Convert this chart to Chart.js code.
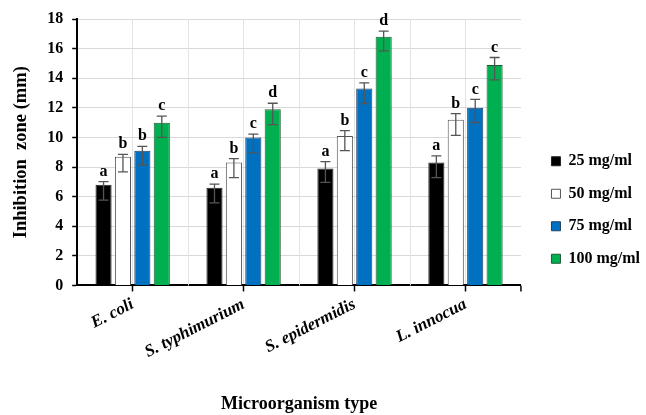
<!DOCTYPE html>
<html>
<head>
<meta charset="utf-8">
<script src="https://cdn.jsdelivr.net/npm/chart.js@4.4.1/dist/chart.umd.min.js"></script>
<style>
  html, body { margin: 0; padding: 0; background: #fff; }
  #wrap { width: 646px; height: 415px; }
</style>
</head>
<body>
<div id="wrap"><canvas id="chart"></canvas></div>
<script>
const categories = ['E. coli', 'S. typhimurium', 'S. epidermidis', 'L. innocua'];
const seriesNames = ['25 mg/ml', '50 mg/ml', '75 mg/ml', '100 mg/ml'];

const v25 = [6.8, 6.6, 7.9, 8.3];
const v50 = [8.7, 8.3, 10.1, 11.2];
const v75 = [9.1, 10.0, 13.3, 12.0];
const v100 = [11.0, 11.9, 16.8, 14.9];

// whiskers as drawn (upper / lower lengths)
const errHigh25 = [0.22, 0.24, 0.47, 0.45];
const errHigh50 = [0.16, 0.27, 0.36, 0.41];
const errHigh75 = [0.30, 0.23, 0.38, 0.57];
const errHigh100 = [0.44, 0.41, 0.38, 0.50];
const errLow25 = [1.03, 1.02, 0.94, 1.02];
const errLow50 = [1.03, 1.02, 0.99, 1.06];
const errLow75 = [0.95, 1.05, 1.01, 0.99];
const errLow100 = [1.00, 1.03, 0.95, 1.01];

const letters25 = ['a', 'a', 'a', 'a'];
const letters50 = ['b', 'b', 'b', 'b'];
const letters75 = ['b', 'c', 'c', 'c'];
const letters100 = ['c', 'd', 'd', 'c'];

const serif = "'Liberation Serif', 'Times New Roman', serif";

const values = [v25, v50, v75, v100];
const highs = [errHigh25, errHigh50, errHigh75, errHigh100];
const lows = [errLow25, errLow50, errLow75, errLow100];
const letters = [letters25, letters50, letters75, letters100];
const fills = ['#000000', '#ffffff', '#0070c0', '#00b050'];
const borders = ['#222222', '#555555', '#1f3f66', '#1f5a33'];

// error bars + significance letters
const errorBars = {
    id: 'errorBars',
    afterDatasetsDraw(chart) {
        const ctx = chart.ctx;
        const y = chart.scales.y;
        ctx.save();
        chart.data.datasets.forEach((ds, di) => {
            const meta = chart.getDatasetMeta(di);
            meta.data.forEach((bar, i) => {
                const v = ds.data[i];
                const top = y.getPixelForValue(v + highs[di][i]);
                const bot = y.getPixelForValue(v - lows[di][i]);
                ctx.strokeStyle = '#555';
                ctx.lineWidth = 1.3;
                ctx.beginPath();
                ctx.moveTo(bar.x, top); ctx.lineTo(bar.x, bot);
                ctx.moveTo(bar.x - 5, top); ctx.lineTo(bar.x + 5, top);
                ctx.moveTo(bar.x - 5, bot); ctx.lineTo(bar.x + 5, bot);
                ctx.stroke();
                ctx.fillStyle = '#000';
                ctx.font = 'bold 16px ' + serif;
                ctx.textAlign = 'center';
                ctx.textBaseline = 'bottom';
                ctx.fillText(letters[di][i], bar.x, top - 2);
            });
        });
        ctx.restore();
    }
};

// vertical lines between categories + closing tick at the right end
const categoryDecor = {
    id: 'categoryDecor',
    beforeDatasetsDraw(chart) {
        const ctx = chart.ctx;
        const x = chart.scales.x;
        const area = chart.chartArea;
        ctx.save();
        ctx.strokeStyle = '#e3e3e3';
        ctx.lineWidth = 1;
        for (let i = 0; i < categories.length - 1; i++) {
            const px = Math.round((x.getPixelForValue(i) + x.getPixelForValue(i + 1)) / 2) + 0.5;
            ctx.beginPath();
            ctx.moveTo(px, area.top); ctx.lineTo(px, area.bottom);
            ctx.stroke();
        }
        ctx.restore();
    },
    afterDraw(chart) {
        const ctx = chart.ctx;
        const area = chart.chartArea;
        ctx.save();
        ctx.strokeStyle = '#000';
        ctx.lineWidth = 1.5;
        ctx.beginPath();
        ctx.moveTo(area.right, area.bottom); ctx.lineTo(area.right, area.bottom + 6);
        ctx.stroke();
        ctx.restore();
    }
};

// leave a gap between the plot and the legend
const legendGap = {
    id: 'legendGap',
    beforeInit(chart) {
        const fit = chart.legend.fit;
        chart.legend.fit = function () {
            fit.bind(chart.legend)();
            this.width += 10;
        };
    },
    afterLayout(chart) {
        chart.legend.left += 14;
        chart.legend.top -= 7;
        chart.legend.bottom -= 7;
    }
};

new Chart(document.getElementById('chart'), {
    type: 'bar',
    data: {
        labels: categories,
        datasets: seriesNames.map((name, i) => ({
            label: name,
            data: values[i],
            backgroundColor: fills[i],
            borderColor: borders[i],
            borderWidth: 1,
            categoryPercentage: 0.7,
            barPercentage: 0.83
        }))
    },
    options: {
        responsive: true,
        maintainAspectRatio: false,
        animation: false,
        layout: { padding: { top: 19, left: 10, right: 0, bottom: 0 } },
        plugins: {
            tooltip: { enabled: false },
            legend: {
                position: 'right',
                labels: {
                    boxWidth: 9,
                    boxHeight: 9,
                    padding: 16.5,
                    color: '#000',
                    font: { family: serif, size: 16, weight: 'bold' }
                }
            }
        },
        scales: {
            x: {
                grid: { offset: false, color: '#e3e3e3', tickLength: 6, tickColor: '#000', tickWidth: 1.5 },
                border: { color: '#000', width: 2 },
                ticks: {
                    color: '#000',
                    minRotation: 27,
                    maxRotation: 27,
                    padding: 3,
                    font: { family: serif, size: 17, weight: 'bold', style: 'italic' }
                },
                title: {
                    display: true,
                    text: 'Microorganism type',
                    color: '#000',
                    font: { family: serif, size: 18, weight: 'bold' },
                    padding: { top: 28, bottom: 0 }
                }
            },
            y: {
                min: 0,
                max: 18,
                ticks: {
                    stepSize: 1,
                    color: '#000',
                    padding: 9,
                    font: { family: serif, size: 16, weight: 'bold' },
                    callback: (v) => (v % 2 === 0 ? v : '')
                },
                grid: {
                    color: (c) => (c.tick && c.tick.value % 2 === 0 ? '#d9d9d9' : '#f0f0f0'),
                    tickColor: (c) => (c.tick && c.tick.value % 2 === 0 ? '#000' : 'rgba(0,0,0,0)'),
                    tickLength: 5,
                    tickWidth: 1.5
                },
                border: { color: '#000', width: 2 },
                title: {
                    display: true,
                    text: 'Inhibition  zone (mm)',
                    color: '#000',
                    font: { family: serif, size: 18.5, weight: 'bold' },
                    padding: { top: 0, bottom: 6 }
                }
            }
        }
    },
    plugins: [errorBars, categoryDecor, legendGap]
});
</script>
</body>
</html>
